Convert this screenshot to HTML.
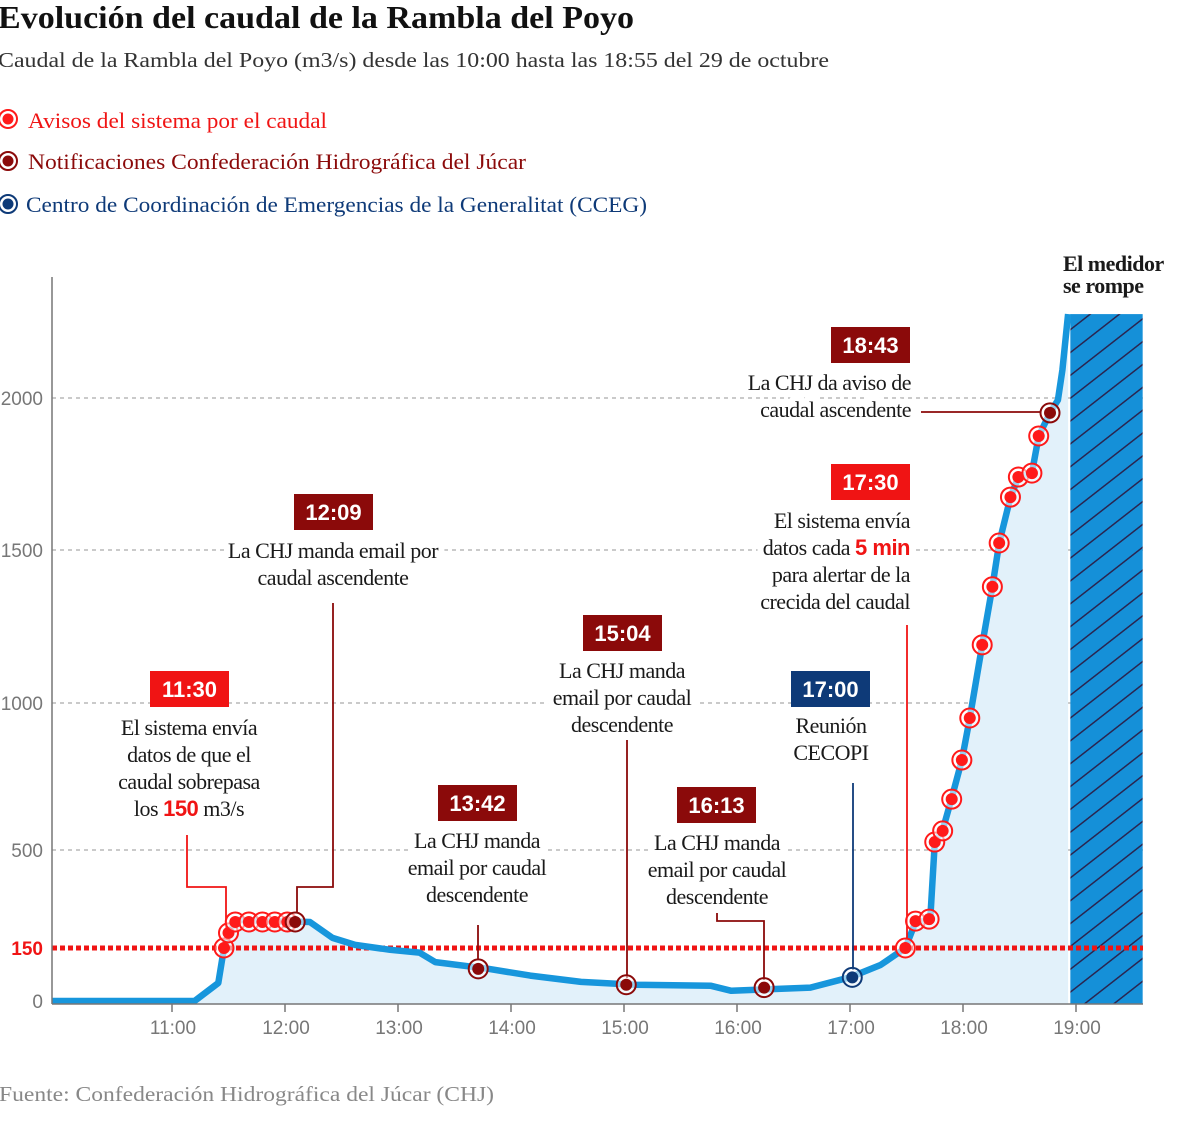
<!DOCTYPE html>
<html><head><meta charset="utf-8">
<style>
html,body{margin:0;padding:0;background:#fff;}
body{width:1200px;height:1125px;overflow:hidden;position:relative;font-family:"Liberation Serif",serif;}
svg{position:absolute;left:0;top:0;}
.ann{font-family:"Liberation Serif",serif;font-size:22px;fill:#1a1a1a;letter-spacing:-0.5px;}
.box{font-family:"Liberation Sans",sans-serif;font-weight:bold;font-size:22px;fill:#fff;}
.tick{font-family:"Liberation Sans",sans-serif;font-size:19px;fill:#777;}
</style></head>
<body>
<svg id="chart" width="1200" height="1125" viewBox="0 0 1200 1125">
  <defs>
    <pattern id="hatch" patternUnits="userSpaceOnUse" width="18" height="18" patternTransform="rotate(-38)">
      <rect width="18" height="18" fill="#1590d8"/>
      <line x1="0" y1="0" x2="18" y2="0" stroke="#2a2550" stroke-width="3"/>
    </pattern>
  </defs>
  <text x="-2" y="28" font-size="32" font-weight="bold" fill="#111" textLength="636" lengthAdjust="spacingAndGlyphs">Evolución del caudal de la Rambla del Poyo</text>
  <text x="-2" y="67" font-size="21" fill="#333" textLength="831" lengthAdjust="spacingAndGlyphs">Caudal de la Rambla del Poyo (m3/s) desde las 10:00 hasta las 18:55 del 29 de octubre</text>

  <g>
    <g>
      <circle cx="8" cy="119" r="9" fill="none" stroke="#ff1a1a" stroke-width="2"/><circle cx="8" cy="119" r="5.5" fill="#ff1a1a"/>
      <text x="28" y="128" font-size="22" fill="#f01414" textLength="299" lengthAdjust="spacingAndGlyphs">Avisos del sistema por el caudal</text>
    </g>
    <g>
      <circle cx="8" cy="161" r="9" fill="none" stroke="#8b0a0a" stroke-width="2"/><circle cx="8" cy="161" r="5.5" fill="#8b0a0a"/>
      <text x="28" y="169" font-size="22" fill="#8b0a0a" textLength="498" lengthAdjust="spacingAndGlyphs">Notificaciones Confederación Hidrográfica del Júcar</text>
    </g>
    <g>
      <circle cx="8" cy="204" r="9" fill="none" stroke="#0e3a78" stroke-width="2"/><circle cx="8" cy="204" r="5.5" fill="#0e3a78"/>
      <text x="26" y="212" font-size="22" fill="#0e3a78" textLength="621" lengthAdjust="spacingAndGlyphs">Centro de Coordinación de Emergencias de la Generalitat  (CCEG)</text>
    </g>
  </g>
  <g id="plot"></g>
  <text x="-1" y="1101" font-size="21" fill="#888" textLength="495" lengthAdjust="spacingAndGlyphs">Fuente: Confederación Hidrográfica del Júcar (CHJ)</text>
</svg>
<script>
// ---- data ----
const lineTimes  = [9.94, 11.2, 11.41, 11.46, 11.51, 11.58, 12.22, 12.42, 12.62, 12.93, 13.19, 13.33, 13.8, 14.17, 14.62, 15.1, 15.77, 15.95, 16.65, 17.0, 17.27, 17.49, 17.58, 17.71, 17.75, 17.82, 17.9, 17.99, 18.06, 18.17, 18.26, 18.32, 18.42, 18.49, 18.61, 18.67, 18.77, 18.84, 18.88, 18.93];
const lineValues = [0, 0, 51, 150, 214, 250, 243, 186, 161, 145, 137, 110, 91, 72, 54, 46, 43, 29, 38, 67, 102, 150, 243, 250, 527, 568, 677, 806, 949, 1190, 1380, 1523, 1674, 1740, 1753, 1875, 1951, 1993, 2092, 2276];
const avisoTimes  = [11.46, 11.5, 11.56, 11.68, 11.8, 11.91, 12.02, 17.49, 17.58, 17.7, 17.75, 17.82, 17.9, 17.99, 18.06, 18.17, 18.26, 18.32, 18.42, 18.49, 18.61, 18.67];
const avisoValues = [150, 204, 243, 243, 243, 243, 243, 150, 246, 253, 527, 565, 673, 806, 949, 1190, 1380, 1523, 1674, 1740, 1753, 1875];
const chjTimes  = [12.09, 13.71, 15.02, 16.24, 18.77];
const chjValues = [243, 91, 46, 38, 1951];
const ccegTimes  = [17.02];
const ccegValues = [67];
const xTickLabels = ["11:00","12:00","13:00","14:00","15:00","16:00","17:00","18:00","19:00"];
const xTickHours  = [11,12,13,14,15,16,17,18,19];
const yTickValues = [0, 500, 1000, 1500, 2000];
const thresholdValue = 150;
const brokenStart = 18.95, brokenEnd = 19.59, brokenTop = 2276;

// ---- scales ----
function x(t){ return 59 + 113*(t-10); }
const yDom = [0,150,500,1000,1500,2000,2500];
const yRng = [1001,948,850,703,550,398,246];
function y(v){
  for(let i=0;i<yDom.length-1;i++){
    if(v<=yDom[i+1]||i===yDom.length-2){
      const f=(v-yDom[i])/(yDom[i+1]-yDom[i]);
      return yRng[i]+f*(yRng[i+1]-yRng[i]);
    }
  }
}
const NS="http://www.w3.org/2000/svg";
const plot=document.getElementById('plot');
function mk(tag,attrs,parent){
  const e=document.createElementNS(NS,tag);
  for(const k in attrs) e.setAttribute(k,attrs[k]);
  (parent||plot).appendChild(e); return e;
}
const X0=52, X1=1143, YB=1004;

// grid
yTickValues.forEach(v=>{
  if(v>0){
    const g=mk('line',{x1:X0,x2:X1,y1:y(v),y2:y(v),stroke:'#aaa','stroke-width':1.2,'stroke-dasharray':'4 4'});
    
    
  }
  const t=mk('text',{x:43,y:y(v)+7,'text-anchor':'end',class:'tick'});
  t.textContent=v;
  
  
});
const t150=mk('text',{x:43,y:y(thresholdValue)+7,'text-anchor':'end',class:'tick','font-weight':'bold'});
t150.style.fill='#f01414';
t150.textContent='150';



// area
let d='M'+x(lineTimes[0])+','+YB;
lineTimes.forEach((t,i)=>{ d+=' L'+x(t).toFixed(1)+','+y(lineValues[i]).toFixed(1); });
d+=' L'+x(lineTimes[lineTimes.length-1])+','+YB+' Z';
const area=mk('path',{d:d,fill:'#e2f1fa'});



// broken meter
const br=mk('rect',{x:x(brokenStart),y:y(brokenTop),width:x(brokenEnd)-x(brokenStart),height:YB-y(brokenTop),fill:'url(#hatch)'});



// threshold
const th=mk('line',{x1:X0,x2:X1,y1:y(thresholdValue),y2:y(thresholdValue),stroke:'#f01414','stroke-width':5,'stroke-dasharray':'5 3'});



// line
let ld='';
lineTimes.forEach((t,i)=>{ ld+=(i?' L':'M')+x(t).toFixed(1)+','+y(lineValues[i]).toFixed(1); });
const ln=mk('path',{d:ld,fill:'none',stroke:'#1796dc','stroke-width':6.5,'stroke-linejoin':'round'});



// axes
const ya=mk('line',{x1:X0,x2:X0,y1:277,y2:YB,stroke:'#777','stroke-width':1.5});


const xa=mk('line',{x1:X0,x2:X1,y1:YB,y2:YB,stroke:'#777','stroke-width':1.5});


xTickHours.forEach((h,i)=>{
  mk('line',{x1:x(h),x2:x(h),y1:YB,y2:YB+8,stroke:'#777','stroke-width':1.5});
  const t=mk('text',{x:x(h)+1,y:1034,'text-anchor':'middle',class:'tick'});
  t.textContent=xTickLabels[i];
  
  
});

// connectors
function conn(pts,color,name){
  const p=mk('polyline',{points:pts.map(p=>p.join(',')).join(' '),fill:'none',stroke:color,'stroke-width':1.8});
  
  
}
const RED='#f01414', DRED='#8b0a0a', NAVY='#0e3a78';
conn([[187,835],[187,887],[226,887],[226,933]],RED,'connector-1130');
conn([[333,603],[333,887],[297,887],[297,912]],DRED,'connector-1209');
conn([[478,925],[478,960]],DRED,'connector-1342');
conn([[627,740],[627,978]],DRED,'connector-1504');
conn([[717,913],[717,921],[764,921],[764,980]],DRED,'connector-1613');
conn([[853,783],[853,970]],NAVY,'connector-1700');
conn([[907,625],[907,938]],RED,'connector-1730');
conn([[921,412],[1040,412]],DRED,'connector-1843');

// markers
function markers(ts,vs,color,name){
  ts.forEach((t,i)=>{
    const g=mk('g',{});
    
    
    mk('circle',{cx:x(t),cy:y(vs[i]),r:9.5,fill:'#fff','fill-opacity':0.55,stroke:color,'stroke-width':2},g);
    mk('circle',{cx:x(t),cy:y(vs[i]),r:6,fill:color},g);
  });
}
markers(avisoTimes,avisoValues,'#ff1a1a','aviso');
markers(chjTimes,chjValues,DRED,'chj');
markers(ccegTimes,ccegValues,NAVY,'cceg');

// annotations
function ann(bx,by,label,color,lines,anchor,ax,ay0,name){
  const g=mk('g',{});
  
  
  const lh=27;
  lines.forEach((l,i)=>{
    const t=mk('text',{x:ax,y:ay0+i*lh,'text-anchor':anchor,class:'ann',stroke:'#fff','stroke-width':12,'stroke-linejoin':'round'},g);
    t.innerHTML=l;
  });
  mk('rect',{x:bx,y:by,width:79,height:36,fill:color},g);
  const bt=mk('text',{x:bx+39.5,y:by+26,'text-anchor':'middle',class:'box'},g);
  bt.textContent=label;
  lines.forEach((l,i)=>{
    const t=mk('text',{x:ax,y:ay0+i*lh,'text-anchor':anchor,class:'ann'},g);
    t.innerHTML=l;
  });
}
const R='<tspan style="fill:#f01414;font-family:Liberation Sans,sans-serif;font-weight:bold">';
ann(150,671,'11:30',RED,['El sistema envía','datos de que el','caudal sobrepasa','los '+R+'150</tspan> m3/s'],'middle',189,735,'annotation-1130');
ann(294,494,'12:09',DRED,['La CHJ manda email por','caudal ascendente'],'middle',333,558,'annotation-1209');
ann(438,785,'13:42',DRED,['La CHJ manda','email por caudal','descendente'],'middle',477,848,'annotation-1342');
ann(583,615,'15:04',DRED,['La CHJ manda','email por caudal','descendente'],'middle',622,678,'annotation-1504');
ann(677,787,'16:13',DRED,['La CHJ manda','email por caudal','descendente'],'middle',717,850,'annotation-1613');
ann(791,671,'17:00',NAVY,['Reunión','CECOPI'],'middle',831,733,'annotation-1700');
ann(831,464,'17:30',RED,['El sistema envía','datos cada '+R+'5 min</tspan>','para alertar de la','crecida del caudal'],'end',910,528,'annotation-1730');
ann(831,327,'18:43',DRED,['La CHJ da aviso de','caudal ascendente'],'end',911,390,'annotation-1843');
const m1=mk('text',{x:1063,y:271,class:'ann','font-weight':'bold'});
m1.textContent='El medidor';


const m2=mk('text',{x:1063,y:293,class:'ann','font-weight':'bold'});
m2.textContent='se rompe';


</script>
</body></html>
